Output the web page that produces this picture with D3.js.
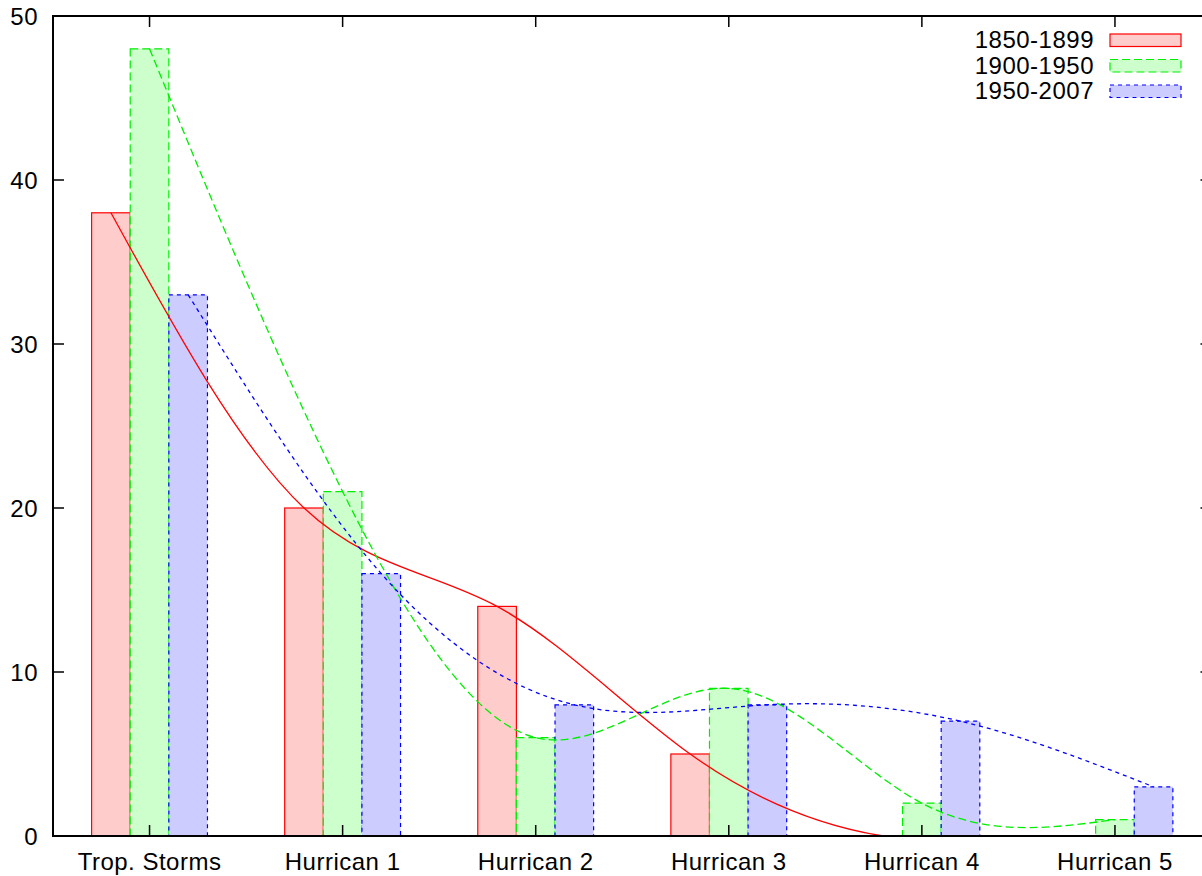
<!DOCTYPE html>
<html>
<head>
<meta charset="utf-8">
<script src="https://cdn.jsdelivr.net/npm/d3@7"></script>
<style>
html,body{margin:0;padding:0;background:#fff;overflow:hidden;}
text{font-family:"Liberation Sans",Arial,Helvetica,sans-serif;font-size:24px;letter-spacing:0.5px;fill:#000;}
</style>
</head>
<body>
<svg id="chart" width="1202" height="876"></svg>
<script>
const categories = ["Trop. Storms","Hurrican 1","Hurrican 2","Hurrican 3","Hurrican 4","Hurrican 5"];
const seriesNames = ["1850-1899","1900-1950","1950-2007"];
const values1850 = [38,20,14,5,0,0];
const values1900 = [48,21,6,9,2,1];
const values1950 = [33,16,8,8,7,3];
const yTicks = [0,10,20,30,40,50];

const styles = [
  {stroke:"#ff0000", fill:"#ffcccc", dash:null},
  {stroke:"#00ee00", fill:"#ccffcc", dash:"8,4"},
  {stroke:"#0000ff", fill:"#ccccff", dash:"4,4"}
];
const series = [values1850, values1900, values1950];

const svg = d3.select("#chart");
const L = 53, R = 1211.5, T = 16, B = 836;

const x = d3.scaleLinear().domain([-0.5, categories.length - 0.5]).range([L, R]);
const y = d3.scaleLinear().domain([0, 50]).range([B, T]);
const unit = x(1) - x(0);
const bw = unit / 5;
const offs = [-bw, 0, bw];

const defs = svg.append("defs");
defs.append("clipPath").attr("id","plotclip").append("rect")
  .attr("x",L).attr("y",T).attr("width",R-L).attr("height",B-T);

// bars
series.forEach((vals, si) => {
  const st = styles[si];
  svg.append("g").selectAll("rect").data(vals).join("rect")
    .attr("x",(d,i)=>x(i)+offs[si]-bw/2)
    .attr("y",d=>y(d))
    .attr("width",bw)
    .attr("height",d=>y(0)-y(d))
    .attr("fill",st.fill)
    .attr("stroke",st.stroke)
    .attr("stroke-width",1.2)
    .attr("stroke-dasharray",st.dash);
});

// smoothed curves
const lineGen = d3.line().curve(d3.curveNatural);
series.forEach((vals, si) => {
  const st = styles[si];
  const pts = vals.map((d,i)=>[x(i)+offs[si], y(d)]);
  svg.append("path")
    .attr("clip-path","url(#plotclip)")
    .attr("d", lineGen(pts))
    .attr("fill","none")
    .attr("stroke",st.stroke)
    .attr("stroke-width",1.3)
    .attr("stroke-dasharray",st.dash);
});

// frame
svg.append("rect").attr("x",L).attr("y",T).attr("width",R-L).attr("height",B-T)
  .attr("fill","none").attr("stroke","#000").attr("stroke-width",2);

// y ticks
const tl = 11;
const yg = svg.append("g");
yTicks.forEach(t=>{
  yg.append("line").attr("x1",L).attr("x2",L+tl).attr("y1",y(t)).attr("y2",y(t)).attr("stroke","#000").attr("stroke-width",1.5);
  yg.append("line").attr("x1",R).attr("x2",R-tl).attr("y1",y(t)).attr("y2",y(t)).attr("stroke","#000").attr("stroke-width",1.5);
  yg.append("text").attr("x",L-15).attr("y",y(t)+9).attr("text-anchor","end").text(t);
});

// x ticks
const xg = svg.append("g");
categories.forEach((c,i)=>{
  xg.append("line").attr("x1",x(i)).attr("x2",x(i)).attr("y1",T).attr("y2",T+tl).attr("stroke","#000").attr("stroke-width",1.5);
  xg.append("line").attr("x1",x(i)).attr("x2",x(i)).attr("y1",B).attr("y2",B-tl).attr("stroke","#000").attr("stroke-width",1.5);
  xg.append("text").attr("x",x(i)).attr("y",B+34).attr("text-anchor","middle").text(c);
});

// legend
const lg = svg.append("g");
seriesNames.forEach((n,i)=>{
  const st = styles[i];
  const cy = 40 + i*25.5;
  lg.append("text").attr("x",1094).attr("y",cy+8).attr("text-anchor","end").text(n);
  lg.append("rect").attr("x",1110).attr("y",cy-6).attr("width",71).attr("height",12.5)
    .attr("fill",st.fill).attr("stroke",st.stroke).attr("stroke-width",1.2)
    .attr("stroke-dasharray",st.dash);
});
</script>
</body>
</html>
